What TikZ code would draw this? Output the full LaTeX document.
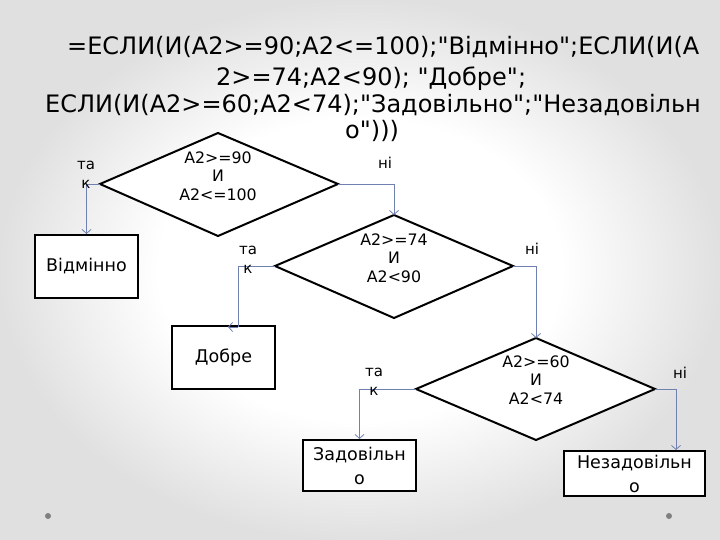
\documentclass[tikz,border=0pt]{standalone}
\usepackage{fontspec}
\setmainfont{DejaVu Sans}
\newfontfamily\dvplain{DejaVu Sans}
\usetikzlibrary{shapes.geometric,arrows.meta}
\definecolor{conn}{RGB}{112,128,176}
\definecolor{dotc}{RGB}{128,128,128}
\pgfdeclareradialshading{bgshade}{\pgfpoint{0bp}{0bp}}{color(0bp)=(white); color(14bp)=(white); color(25bp)=(black!12); color(50bp)=(black!12)}
\tikzset{
  title/.style={anchor=west,inner sep=0pt,font=\dvplain\fontsize{24}{28}\selectfont},
  dia/.style={draw=black,fill=white,line width=2pt,line join=miter},
  dtext/.style={align=center,inner sep=0pt,font=\fontsize{15.8}{18.5}\selectfont},
  box/.style={draw=black,fill=white,line width=2pt,align=center,inner sep=0pt,font=\fontsize{17.5}{24}\selectfont},
  lbl/.style={align=center,inner sep=0pt,font=\fontsize{15}{19}\selectfont},
  conn/.style={draw=conn,line width=0.8pt,-{Straight Barb[length=4pt,width=9pt]}},
}
\begin{document}
\begin{tikzpicture}[x=1pt,y=-1pt]
\shade[shading=bgshade] (0,0) rectangle (720,540);
\useasboundingbox (0,0) rectangle (720,540);
\fill[dotc] (48,516) circle (3);
\fill[dotc] (669,516) circle (3);
% title
\node[title] (t1) at (67,47) {=ЕСЛИ(И(А2>=90;А2<=100);"Відмінно";ЕСЛИ(И(А};
\node[title] (t2) at (216,79) {2>=74;А2<90); "Добре";};
\node[title] (t3) at (45,105) {ЕСЛИ(И(А2>=60;А2<74);"Задовільно";"Незадовільн};
\node[title] (t4) at (345,131) {о")))};
% diamonds
\coordinate (d1l) at (100,184); \coordinate (d1r) at (338,184);
\coordinate (d1t) at (218,133); \coordinate (d1b) at (218,236);
\draw[dia] (d1l) -- (d1t) -- (d1r) -- (d1b) -- cycle;
\node[dtext] (d1) at (218,176) {А2>=90\\И\\А2<=100};
\coordinate (d2l) at (275,266); \coordinate (d2r) at (513,266);
\coordinate (d2t) at (394,215); \coordinate (d2b) at (394,318);
\draw[dia] (d2l) -- (d2t) -- (d2r) -- (d2b) -- cycle;
\node[dtext] (d2) at (394,258) {А2>=74\\И\\А2<90};
\coordinate (d3l) at (416,389); \coordinate (d3r) at (655,389);
\coordinate (d3t) at (536,338); \coordinate (d3b) at (536,440);
\draw[dia] (d3l) -- (d3t) -- (d3r) -- (d3b) -- cycle;
\node[dtext] (d3) at (536,380) {А2>=60\\И\\А2<74};
% boxes
\node[box,minimum width=103pt,minimum height=63pt] (b1) at (86.5,266.5) {Відмінно};
\node[box,minimum width=103pt,minimum height=63pt] (b2) at (223.5,357.5) {Добре};
\node[box,minimum width=113pt,minimum height=51pt] (b3) at (359.5,465.5) {Задовільн\\о};
\node[box,minimum width=141pt,minimum height=45pt] (b4) at (634.5,473.5) {Незадовільн\\о};
% connectors
\coordinate (e2) at (238,327);
\draw[conn] (d1l) -| (b1.north);
\draw[conn] (d1r) -| (d2t);
\draw[conn,-] (d2l) -| (e2);
\draw[conn] (e2) -- (228,327);
\draw[conn] (d2r) -| (d3t);
\draw[conn] (d3l) -| (b3.north);
\draw[conn] (d3r) -| (b4.north -| 676,0);
% labels
\node[lbl] (y1) at (86,175) {та\\к};
\node[lbl] (y2) at (248,260) {та\\к};
\node[lbl] (y3) at (374,382) {та\\к};
\node[lbl] (n1) at (385,163) {ні};
\node[lbl] (n2) at (532,249) {ні};
\node[lbl] (n3) at (680,373) {ні};
\end{tikzpicture}
\end{document}
